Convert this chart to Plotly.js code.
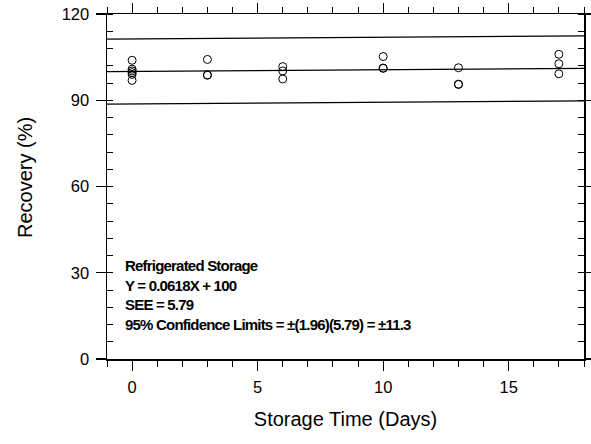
<!DOCTYPE html>
<html><head><meta charset="utf-8">
<script src="https://cdn.plot.ly/plotly-3.0.1.min.js"></script>
<style>html,body{margin:0;padding:0;background:#fff}#chart{width:591px;height:444px}
.infolayer .annotation-text.stats{letter-spacing:-0.8px}</style>
</head><body><div id="chart"></div>
<script>
// Observed recoveries (%) by storage day
const days = [0,0,0,0,0,0, 3,3,3, 6,6,6, 10,10,10, 13,13,13, 17,17,17];
const recovery = [103.9,100.8,100.2,99.6,99.0,96.9, 104.2,98.7,98.8, 101.7,100.2,97.4, 105.2,101.1,101.2, 101.3,95.5,95.6, 106.0,102.7,99.2];
// Regression
const slope = 0.0618;
const intercept = 100;
const confLimit = 11.3;
const lineX = [-1, 18];
const annotationLines = ["Refrigerated Storage","Y = 0.0618X + 100","SEE = 5.79","95% Confidence Limits = \u00b1(1.96)(5.79) = \u00b111.3"];
const xTitle = 'Storage Time (Days)';
const yTitle = 'Recovery (%)';

const fit = lineX.map(x => slope*x + intercept);
const upper = fit.map(v => v + confLimit);
const lower = fit.map(v => v - confLimit);
const lineStyle = {color:'#000', width:1.2};

const traces = [
  {x: days, y: recovery, mode:'markers', type:'scatter',
   marker:{symbol:'circle-open', size:8, color:'#000', line:{width:1, color:'#000'}}},
  {x: lineX, y: fit, mode:'lines', line: lineStyle},
  {x: lineX, y: upper, mode:'lines', line: lineStyle},
  {x: lineX, y: lower, mode:'lines', line: lineStyle}
];

const fam = 'Arial, "Liberation Sans", sans-serif';
const layout = {
  width:591, height:444, showlegend:false,
  margin:{l:107, r:7, t:14, b:85},
  paper_bgcolor:'#fff', plot_bgcolor:'#fff',
  font: {family:fam, color:'#000'},
  xaxis:{range:[-1,18], tick0:0, dtick:5, showgrid:false, zeroline:false,
    showline:true, linecolor:'#000', linewidth:1.5, mirror:'allticks',
    ticks:'outside', ticklen:10, tickwidth:1.2, tickcolor:'#000', ticklabelstandoff:3,
    minor:{dtick:1, ticks:'outside', ticklen:6, tickwidth:1, tickcolor:'#000'},
    tickfont:{size:16.5, family:fam, color:'#000'},
    title:{text:xTitle, font:{size:20, family:fam, color:'#000'}, standoff:16}},
  yaxis:{range:[0,120], tick0:0, dtick:30, showgrid:false, zeroline:false,
    showline:true, linecolor:'#000', linewidth:1.5, mirror:'allticks',
    ticks:'outside', ticklen:10, tickwidth:1.2, tickcolor:'#000', ticklabelstandoff:3,
    minor:{dtick:6, ticks:'inside', ticklen:6, tickwidth:1, tickcolor:'#000'},
    tickfont:{size:16.5, family:fam, color:'#000'}},
  annotations:[
   {xref:'paper', yref:'paper', x:0.034, y:0.302, xanchor:'left', yanchor:'top',
    align:'left', showarrow:false, text: annotationLines.join('<br>'),
    font:{size:15, family:fam, color:'#000', weight:'bold'}},
   {xref:'paper', yref:'paper', x:-0.172, y:0.5275, xanchor:'center', yanchor:'middle',
    textangle:-90, showarrow:false, text:yTitle,
    font:{size:20, family:fam, color:'#000'}}
  ]
};
Plotly.newPlot('chart', traces, layout, {staticPlot:true}).then(gd => {
  const t = gd.querySelectorAll('.infolayer .annotation-text');
  if (t.length) t[0].classList.add('stats');
});
</script></body></html>
